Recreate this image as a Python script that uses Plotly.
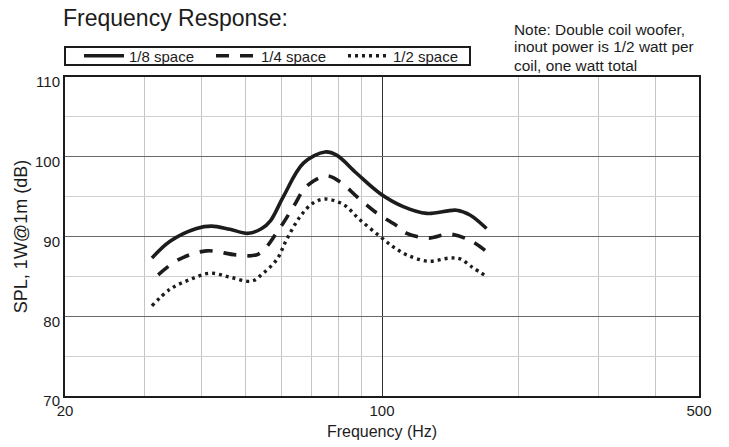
import plotly.graph_objects as go

# ---- data ----
freq_18 = [31.1, 34.1, 39.0, 42.1, 46.2, 50.7, 54.3, 56.8, 60.6, 67.1, 74.9, 79.4, 88.0, 99.0, 111.4, 125.5, 146.0, 156.3, 170.0]
spl_18 = [87.3, 89.4, 91.0, 91.3, 90.9, 90.4, 91.0, 92.0, 95.0, 99.2, 100.6, 100.2, 97.9, 95.4, 93.75, 92.9, 93.3, 92.7, 91.0]

freq_14 = [32.1, 35.6, 41.0, 47.7, 53.4, 59.1, 63.8, 68.2, 75.5, 81.5, 88.0, 96.5, 108.7, 113.4, 126.5, 141.3, 157.7, 170.0]
spl_14 = [85.2, 87.1, 88.2, 87.7, 87.8, 90.8, 93.75, 96.3, 97.6, 96.7, 95.0, 93.1, 91.2, 90.4, 89.8, 90.3, 89.4, 88.1]

freq_12 = [31.1, 34.1, 37.7, 41.8, 46.2, 51.6, 54.7, 58.6, 61.6, 66.0, 70.5, 74.9, 82.2, 89.4, 99.0, 105.9, 113.4, 126.5, 141.3, 148.6, 157.7, 170.0]
spl_12 = [81.3, 83.4, 84.6, 85.4, 84.9, 84.4, 85.4, 87.1, 89.6, 92.5, 94.2, 94.7, 94.0, 92.1, 90.0, 88.7, 87.7, 86.9, 87.3, 87.2, 86.2, 85.0]

series_names = ["1/8 space", "1/4 space", "1/2 space"]
x_tickvals = [20, 100, 500]
x_minor = [30, 40, 50, 60, 70, 80, 90, 200, 300, 400]
y_tickvals = [70, 80, 90, 100, 110]
y_minor = [75, 85, 95, 105]
note_lines = ["Note: Double coil woofer,", "inout power is 1/2 watt per", "coil, one watt total"]

FONT = "Liberation Sans, Arial, Helvetica, sans-serif"
INK = "#1c1c1c"

W, H = 729, 447
PL, PT, PR, PB = 65, 77, 699, 396          # plot area in pixels
PW, PH = PR - PL, PB - PT


def px(xp):
    return (xp - PL) / PW


def py(yp):
    return (PB - yp) / PH


fig = go.Figure()
fig.add_trace(go.Scatter(x=freq_18, y=spl_18, mode="lines", name=series_names[0],
                         line=dict(color=INK, width=3.6, shape="spline", smoothing=1.0)))
fig.add_trace(go.Scatter(x=freq_14, y=spl_14, mode="lines", name=series_names[1],
                         line=dict(color=INK, width=3.6, shape="spline", smoothing=1.0, dash="13px,11px")))
fig.add_trace(go.Scatter(x=freq_12, y=spl_12, mode="lines", name=series_names[2],
                         line=dict(color=INK, width=3.4, shape="spline", smoothing=1.0, dash="3px,4px")))

fig.update_layout(
    width=W, height=H,
    margin=dict(l=PL, r=W - PR, t=PT, b=H - PB),
    paper_bgcolor="white", plot_bgcolor="white",
    font=dict(family=FONT, color=INK, size=15),
    title=dict(text="Frequency Response:", x=63 / W, xref="container", xanchor="left",
               y=1 - 18 / H, yref="container", yanchor="middle",
               font=dict(size=23, family=FONT, color=INK)),
    showlegend=True,
    legend=dict(orientation="h", x=0, xanchor="left", y=py(56), yanchor="middle",
                borderwidth=0, bgcolor="rgba(0,0,0,0)",
                itemwidth=40, entrywidth=63, entrywidthmode="pixels", indentation=14,
                font=dict(size=15, family=FONT, color=INK)),
    xaxis=dict(type="log", range=[1.30103, 2.69897], tickvals=x_tickvals,
               ticktext=[str(v) for v in x_tickvals], automargin=False,
               showgrid=True, gridcolor="#333333", gridwidth=1,
               minor=dict(tickvals=x_minor, showgrid=True, gridcolor="#c4c4c4", gridwidth=1, ticks=""),
               showline=True, linecolor=INK, linewidth=2, mirror=True, ticks="",
               zeroline=False,
               title=dict(text="Frequency (Hz)", font=dict(size=16), standoff=8)),
    yaxis=dict(range=[70, 110], tickvals=y_tickvals, automargin=False,
               showgrid=True, gridcolor="#6a6a6a", gridwidth=1.3,
               minor=dict(tickvals=y_minor, showgrid=True, gridcolor="#cfcfcf", gridwidth=1, ticks=""),
               showline=True, linecolor=INK, linewidth=2, mirror=True, ticks="",
               zeroline=False, ticklabelshift=5,
               title=dict(text="SPL, 1W@1m (dB)", font=dict(size=18), standoff=3)),
)

# frame drawn around the legend entries
fig.add_shape(type="rect", xref="paper", yref="paper", x0=px(65), x1=px(470), y0=py(65), y1=py(47),
              line=dict(color=INK, width=2), fillcolor="rgba(0,0,0,0)", layer="above")

for i, line in enumerate(note_lines):
    fig.add_annotation(text=line, xref="paper", yref="paper", x=px(512), y=py(29 + 18 * i),
                       xanchor="left", yanchor="middle", align="left", showarrow=False,
                       font=dict(size=15.4, family=FONT, color=INK))

# remove the browser's default 8px page margin so the figure fills the window exactly
fig.write_html("out.html", config={"displayModeBar": False},
               post_script="document.body.style.margin='0';")
